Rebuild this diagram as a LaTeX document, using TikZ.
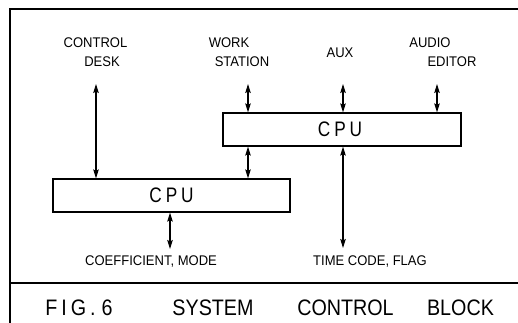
\documentclass[tikz,border=0pt]{standalone}
\usepackage{fontspec}
\setmainfont{Liberation Sans}
\newfontfamily\lblfont{Liberation Sans}[FakeStretch=0.93]
\newfontfamily\cpufont{Liberation Sans}[FakeStretch=0.82]
\newfontfamily\capfont{Liberation Sans}[FakeStretch=0.88]
\usetikzlibrary{arrows.meta}
\begin{document}
\begin{tikzpicture}[x=1pt,y=-1pt,
  frame/.style={line width=2pt},
  cpubox/.style={draw,line width=1.2pt,minimum width=238pt,minimum height=33pt,inner sep=0pt,font=\cpufont\fontsize{21}{21}\selectfont},
  lbl/.style={inner sep=0pt,font=\lblfont\fontsize{14}{14}\selectfont},
  captxt/.style={inner sep=0pt,font=\capfont\fontsize{22.4}{22.4}\selectfont},
  link/.style={line width=1.1pt,{Stealth[length=9pt,width=5.5pt,inset=1.5pt]}-{Stealth[length=9pt,width=5.5pt,inset=1.5pt]}}]
\useasboundingbox (0,0) rectangle (518,323);
% frame
\draw[frame] (10,323) -- (10,9) -- (518,9);
\draw[frame] (10,283) -- (518,283);
% boxes
\node[cpubox] (cpuU) at (342,129.5) {\hspace*{-4pt}C\hspace{4pt}P\hspace{4pt}U};
\node[cpubox,minimum width=237pt] (cpuL) at (171.5,195.5) {C\hspace{4pt}P\hspace{4pt}U};
% labels
\node[lbl] (cdA) at (95.5,43) {CONTROL};
\node[lbl] (cdB) at (102,62) {DESK};
\node[lbl] (wsA) at (229,43) {WORK};
\node[lbl] (wsB) at (242,62) {STATION};
\node[lbl] (aux) at (340,53) {AUX};
\node[lbl] (aeA) at (430,43) {AUDIO};
\node[lbl] (aeB) at (452,62) {EDITOR};
\node[lbl] (cf) at (151,262) {COEFFICIENT, MODE};
\node[lbl] (tc) at (370,262) {TIME CODE, FLAG};
% caption
\node[captxt] (fig) at (79,308) {F\hspace{4pt}I\hspace{4pt}G\hspace{4pt}.\hspace{6pt}6};
\node[captxt] (sys) at (213,308) {SYSTEM};
\node[captxt] (ctl) at (345.5,308) {CONTROL};
\node[captxt] (blk) at (460.5,308) {BLOCK};
% connector ends
\coordinate (cdT) at (96,84);
\coordinate (wsT) at (248,84);
\coordinate (auxT) at (343,84);
\coordinate (aeT) at (437,84);
\coordinate (tcB) at (343,248);
\coordinate (cfB) at (170,249);
% connectors
\draw[link] (cdT) -- (cdT |- cpuL.north);
\draw[link] (wsT) -- (wsT |- cpuU.north);
\draw[link] (wsT |- cpuU.south) -- (wsT |- cpuL.north);
\draw[link] (auxT) -- (auxT |- cpuU.north);
\draw[link] (aeT) -- (aeT |- cpuU.north);
\draw[link] (tcB |- cpuU.south) -- (tcB);
\draw[link] (cfB |- cpuL.south) -- (cfB);
\end{tikzpicture}
\end{document}
